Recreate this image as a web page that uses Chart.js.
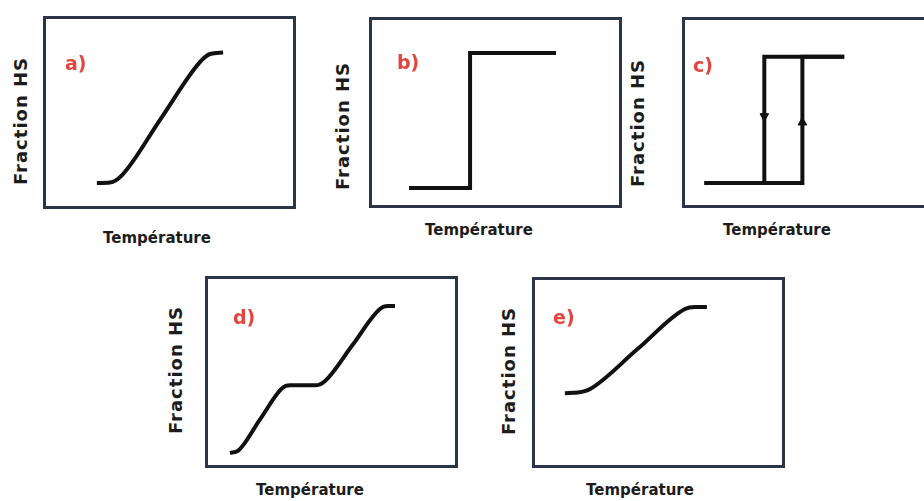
<!DOCTYPE html>
<html>
<head>
<meta charset="utf-8">
<script src="https://cdn.jsdelivr.net/npm/chart.js@4/dist/chart.umd.min.js"></script>
<style>
  body { margin: 0; background: #fff; }
  #page { position: relative; width: 924px; height: 501px; overflow: hidden; background: #fff; }
  .box { position: absolute; border: 3px solid #2b3448; box-sizing: border-box; background: #fff; }
  .box canvas { display: block; }
  .txt { position: absolute; white-space: nowrap; font-family: "DejaVu Sans", sans-serif; font-weight: bold; color: #1c1c1c; }
  .ylab { font-size: 18px; letter-spacing: 1px; transform: translate(-50%, -50%) rotate(-90deg); }
  .xlab { font-size: 15px; transform: translate(-50%, -50%); }
  .tag { font-size: 19px; color: #e2453d; transform: translate(0, -50%); }
</style>
</head>
<body>
<div id="page"></div>
<script>
// values (temperature 0-100, fraction HS 0-1)
var tempA = [20.6, 25.9, 30.8, 46.5, 62.3, 66.4, 71.7];
var hsA = [0, 0.004, 0.061, 0.494, 0.927, 0.989, 1];

var tempB = [15.0, 39.7, 39.7, 74.5];
var hsB = [0, 0, 1, 1];

var tempCUp = [5.7, 47.4, 47.4, 65.2];
var hsCUp = [0, 0, 1, 1];
var tempCDown = [65.2, 31.2, 31.2, 5.7];
var hsCDown = [1, 1, 0, 0];
var arrowTemp = [31.2, 47.4];
var arrowHs = [0.53, 0.48];
var arrowRot = [180, 0];

var tempD = [8.9, 12.1, 21.0, 30.0, 33.2, 43.3, 47.4, 58.5, 69.6, 72.9, 75.7];
var hsD = [0, 0.014, 0.227, 0.44, 0.46, 0.46, 0.49, 0.735, 0.98, 1, 1];

var tempE = [12.1, 17.4, 22.3, 41.5, 60.7, 64.8, 69.6];
var hsE = [0.41, 0.414, 0.438, 0.712, 0.986, 1, 1];

var yTitle = 'Fraction HS';
var xTitle = 'Température';

function pts(xs, ys) {
  return xs.map(function (x, i) { return { x: x, y: ys[i] }; });
}

function curve(xs, ys, smooth) {
  return {
    data: pts(xs, ys),
    borderColor: '#111',
    borderWidth: 4,
    pointRadius: 0,
    fill: false,
    tension: 0,
    cubicInterpolationMode: smooth ? 'monotone' : 'default',
    borderCapStyle: 'butt',
    borderJoinStyle: 'miter'
  };
}

// panel boxes and text spots
var panels = [
  { tag: 'a)', l: 43, t: 16, w: 253, h: 193, yMin: -0.176, yMax: 1.257, ylx: 20, yly: 121, xlx: 157, xly: 238, tx: 65, ty: 63,
    sets: [curve(tempA, hsA, true)] },
  { tag: 'b)', l: 369, t: 17, w: 253, h: 191, yMin: -0.126, yMax: 1.244, ylx: 342, yly: 126, xlx: 479, xly: 230, tx: 397, ty: 62,
    sets: [curve(tempB, hsB, false)] },
  { tag: 'c)', l: 682, t: 17, w: 253, h: 191, yMin: -0.126, yMax: 1.244, ylx: 637, yly: 123, xlx: 777, xly: 230, tx: 693, ty: 65,
    sets: [curve(tempCUp, hsCUp, false), curve(tempCDown, hsCDown, false), {
      data: pts(arrowTemp, arrowHs),
      showLine: false,
      pointStyle: 'triangle',
      pointRadius: 5,
      pointRotation: arrowRot,
      backgroundColor: '#111',
      borderColor: '#111',
      borderWidth: 1
    }] },
  { tag: 'd)', l: 205, t: 276, w: 253, h: 192, yMin: -0.082, yMax: 1.184, ylx: 175, yly: 370, xlx: 310, xly: 490, tx: 233, ty: 317,
    sets: [curve(tempD, hsD, true)] },
  { tag: 'e)', l: 532, t: 277, w: 253, h: 191, yMin: -0.082, yMax: 1.185, ylx: 508, yly: 371, xlx: 640, xly: 490, tx: 553, ty: 317,
    sets: [curve(tempE, hsE, true)] }
];

var page = document.getElementById('page');

function addText(cls, txt, x, y) {
  var d = document.createElement('div');
  d.className = 'txt ' + cls;
  d.textContent = txt;
  d.style.left = x + 'px';
  d.style.top = y + 'px';
  page.appendChild(d);
}

panels.forEach(function (p) {
  var box = document.createElement('div');
  box.className = 'box';
  box.style.left = p.l + 'px';
  box.style.top = p.t + 'px';
  box.style.width = p.w + 'px';
  box.style.height = p.h + 'px';
  var cv = document.createElement('canvas');
  cv.width = p.w - 6;
  cv.height = p.h - 6;
  box.appendChild(cv);
  page.appendChild(box);

  new Chart(cv, {
    type: 'line',
    data: { datasets: p.sets },
    options: {
      responsive: false,
      animation: false,
      devicePixelRatio: 1,
      layout: { padding: 0 },
      plugins: { legend: { display: false }, tooltip: { enabled: false } },
      scales: {
        x: { type: 'linear', min: 0, max: 100, display: false },
        y: { type: 'linear', min: p.yMin, max: p.yMax, display: false }
      }
    }
  });

  addText('ylab', yTitle, p.ylx, p.yly);
  addText('xlab', xTitle, p.xlx, p.xly);
  addText('tag', p.tag, p.tx, p.ty);
});
</script>
</body>
</html>
